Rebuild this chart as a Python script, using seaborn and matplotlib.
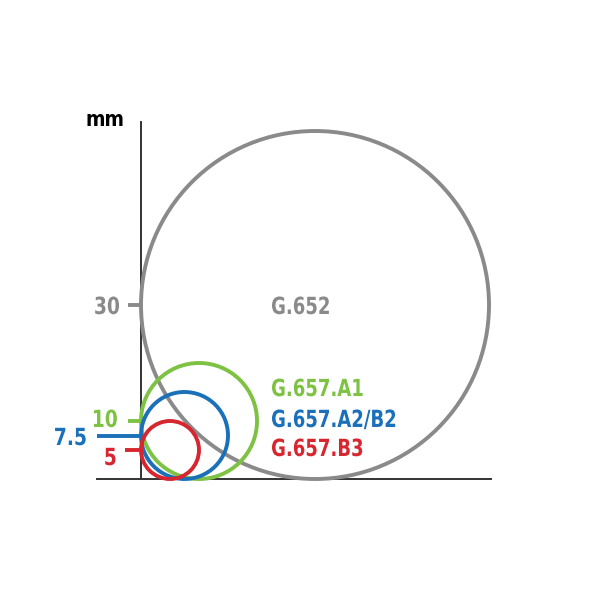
import matplotlib
matplotlib.use("Agg")
import matplotlib.pyplot as plt
from matplotlib.patches import Circle
from matplotlib.patheffects import AbstractPathEffect
from matplotlib.transforms import Affine2D
import seaborn as sns

# Data (bending radius in mm)
fibers = ["G.652", "G.657.A1", "G.657.A2/B2", "G.657.B3"]
radii = [30, 10, 7.5, 5]
tick_values = [30, 10, 7.5, 5]
tick_labels = ["30", "10", "7.5", "5"]
colors = ["#8a8a8a", "#7dc243", "#1a70b9", "#d7262f"]

sns.set_theme(style="white")
FONT = ["DejaVu Sans"]
plt.rcParams["font.family"] = FONT


class Squeeze(AbstractPathEffect):
    """Horizontally condense the glyphs, pivoting at the left or right edge."""
    def __init__(self, sx, pivot="left"):
        super().__init__()
        self.sx = sx
        self.pivot = pivot

    def draw_path(self, renderer, gc, tpath, affine, rgbFace=None):
        ext = tpath.get_extents()
        p = ext.x1 if self.pivot == "right" else ext.x0
        t = Affine2D().translate(-p, 0).scale(self.sx, 1).translate(p, 0) + affine
        renderer.draw_path(gc, tpath, t, rgbFace)


W = H = 600
s = 5.8            # px per mm
x0, y0 = 141, 479  # origin in px (from top-left)
xmin, xmax = -7.6, 60.3
ymin, ymax = 0, 61.5

fig = plt.figure(figsize=(6, 6), dpi=100)
left = (x0 + xmin * s) / W
bottom = (H - y0) / H
ax = fig.add_axes([left, bottom, (xmax - xmin) * s / W, (ymax - ymin) * s / H])
ax.set_xlim(xmin, xmax)
ax.set_ylim(ymin, ymax)
ax.patch.set_alpha(0)

for sp in ["top", "right"]:
    ax.spines[sp].set_visible(False)
ax.spines["left"].set_position(("data", 0))
ax.spines["bottom"].set_position(("data", 0))
for sp in ["left", "bottom"]:
    ax.spines[sp].set_color("#333333")
    ax.spines[sp].set_linewidth(1.4)
ax.set_xticks([])
ax.set_yticks([])

for r, c in zip(radii, colors):
    ax.add_patch(Circle((r, r), r, fill=False, edgecolor=c, linewidth=2.8,
                        clip_on=False, zorder=3))

tick_len = {30: 2.2, 10: 2.2, 7.5: 7.6, 5: 2.7}
label_xy = {30: (-3.62, 28.45), 10: (-3.97, 8.97), 7.5: (-9.31, 5.86), 5: (-4.14, 2.41)}
for v, lab, c in zip(tick_values, tick_labels, colors):
    ax.plot([-tick_len[v], 0], [v, v], color=c, linewidth=2.8,
            solid_capstyle="butt", clip_on=False, zorder=2)
    x, y = label_xy[v]
    ax.text(x, y, lab, color=c, fontsize=17, fontweight="bold",
            fontstretch="condensed", ha="right", va="baseline", family=FONT,
            path_effects=[Squeeze(0.88, "right")])

ax.text(-2.76, 60.86, "mm", color="black", fontsize=15, fontweight="bold",
        fontstretch="condensed", ha="right", va="baseline", family=FONT,
        clip_on=False)

label_pos = {"G.652": (22.4, 28.45), "G.657.A1": (22.4, 14.3),
             "G.657.A2/B2": (22.4, 8.97), "G.657.B3": (22.4, 3.97)}
for f, c in zip(fibers, colors):
    x, y = label_pos[f]
    ax.text(x, y, f, color=c, fontsize=17, fontweight="bold",
            fontstretch="condensed", ha="left", va="baseline", family=FONT,
            path_effects=[Squeeze(0.85, "left")])

fig.savefig("out.png", dpi=100)
